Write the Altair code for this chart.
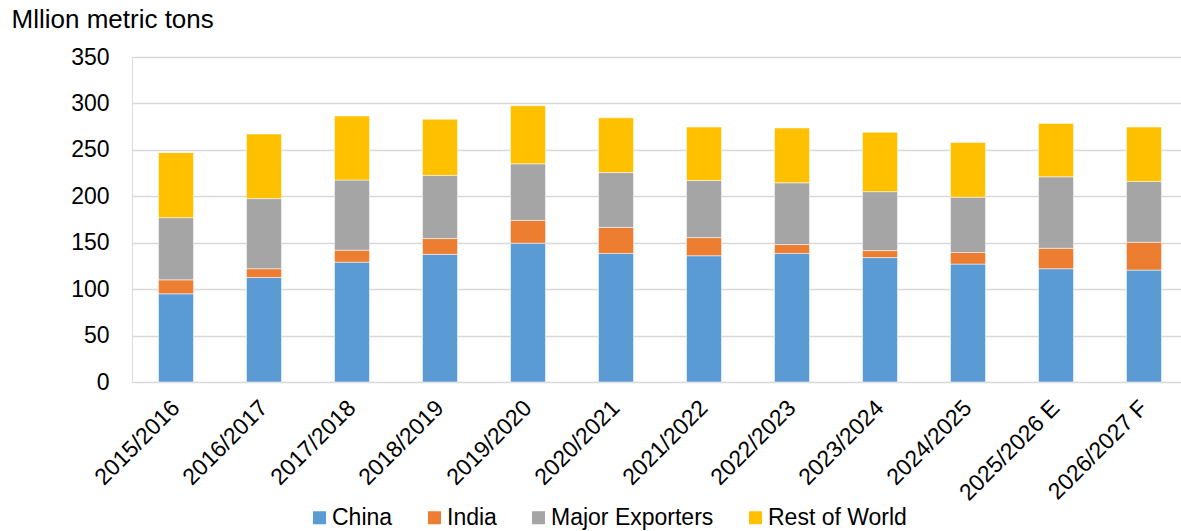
import altair as alt
import pandas as pd

seasons = ["2015/2016", "2016/2017", "2017/2018", "2018/2019", "2019/2020", "2020/2021",
           "2021/2022", "2022/2023", "2023/2024", "2024/2025", "2025/2026 E", "2026/2027 F"]
series = ["China", "India", "Major Exporters", "Rest of World"]
colors = ["#5B9BD5", "#ED7D31", "#A5A5A5", "#FFC000"]

china = [95, 112.5, 129, 137.5, 149.5, 138.5, 136, 138.5, 134, 127, 122, 120.5]
india = [15, 9.5, 13, 17, 24.5, 28, 19.5, 9.5, 7.5, 12.5, 22, 30]
major = [67, 75.5, 75.5, 68, 61, 59, 61.5, 66.5, 63.5, 59.5, 77, 65.5]
rest = [70, 69.5, 69, 60.5, 62.5, 59, 57.5, 59, 64, 59, 57.5, 58.5]

rows = []
for vals, name, k in zip([china, india, major, rest], series, range(4)):
    for s, v in zip(seasons, vals):
        rows.append({"season": s, "series": name, "value": v, "order": k})
df = pd.DataFrame(rows)

FONT = "Liberation Sans"

chart = alt.Chart(df).mark_bar(width=35, stroke="white", strokeWidth=0.5).encode(
    x=alt.X("season:N", sort=seasons,
            scale=alt.Scale(range=[0, 1056], paddingInner=0, paddingOuter=0),
            axis=alt.Axis(title=None, labelAngle=-45, labelAlign="right", labelBaseline="middle",
                          labelPadding=22, ticks=False, domain=False, grid=False,
                          labelFontSize=23, labelFont=FONT, labelColor="#000000")),
    y=alt.Y("value:Q", stack="zero",
            scale=alt.Scale(domain=[0, 350], nice=False),
            axis=alt.Axis(title="Mllion metric tons", values=[0, 50, 100, 150, 200, 250, 300, 350],
                          titleAngle=0, titleAlign="left", titleBaseline="alphabetic",
                          titleX=-121, titleY=-30, titleFontSize=26, titleFont=FONT,
                          titleFontWeight="normal", titleColor="#000000",
                          labelFontSize=23, labelFont=FONT, labelColor="#000000", labelPadding=23,
                          ticks=False, domain=False, grid=True, gridColor="#D9D9D9", gridWidth=1.5)),
    color=alt.Color("series:N", sort=series,
                    scale=alt.Scale(domain=series, range=colors),
                    legend=alt.Legend(title=None, orient="none", direction="horizontal",
                                      legendX=176, legendY=449, symbolType="square",
                                      symbolSize=169, symbolStrokeWidth=0, labelFontSize=23,
                                      labelFont=FONT, labelColor="#000000", labelOffset=1,
                                      labelLimit=0, columnPadding=30, symbolOpacity=1)),
    order=alt.Order("order:Q", sort="ascending"),
).properties(
    width=1049, height=325,
    autosize=alt.AutoSizeParams(type="none"),
    padding={"left": 132, "top": 57, "right": 0, "bottom": 149},
).configure_view(stroke=None).configure(background="white")

chart.save("out.html", embed_options={"renderer": "svg", "actions": False})
